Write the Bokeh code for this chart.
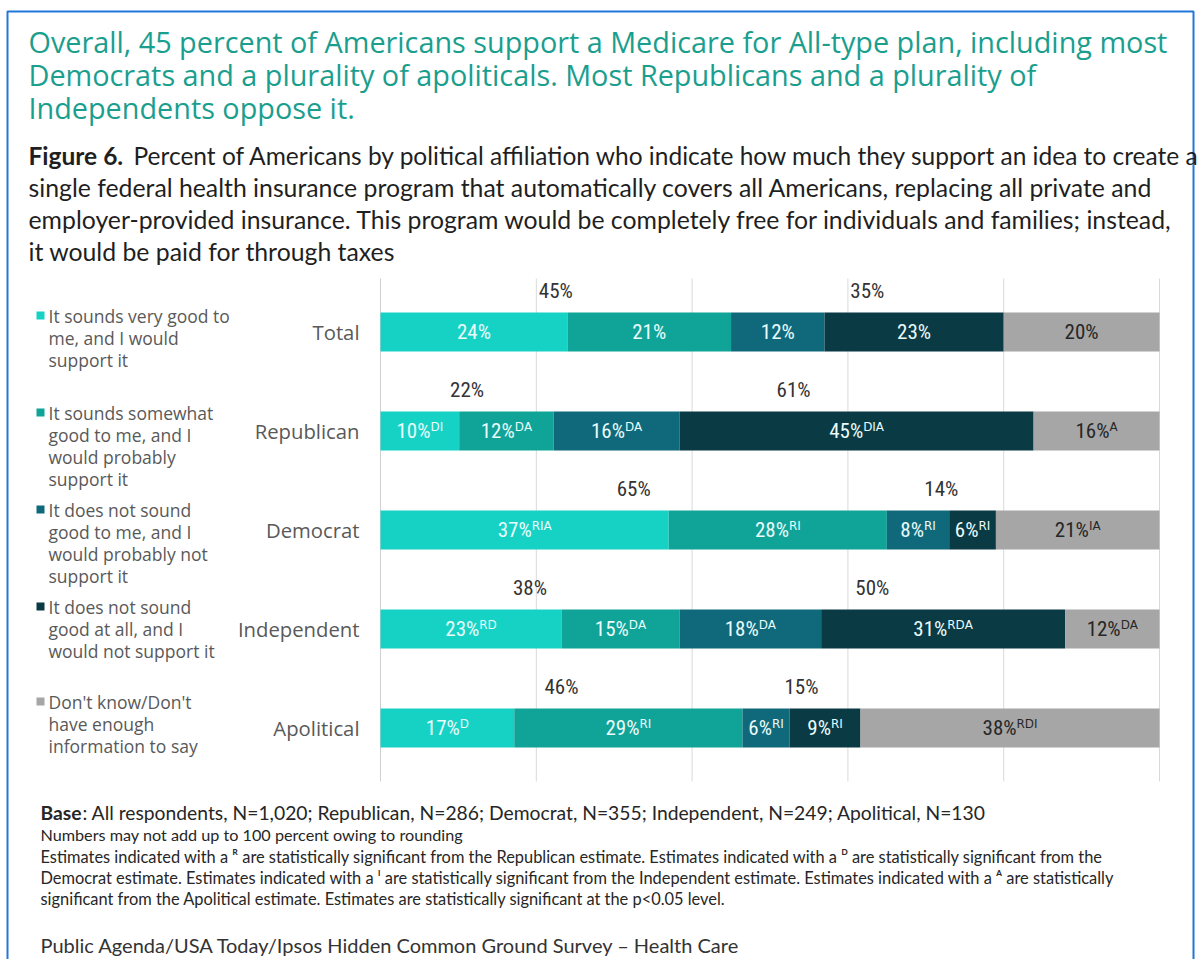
from bokeh.plotting import figure
from bokeh.models import ColumnDataSource, Range1d, Label
from bokeh.core.properties import value
from bokeh.embed import file_html
from bokeh.resources import INLINE

# ---------------- data ----------------
categories = ["Total", "Republican", "Democrat", "Independent", "Apolitical"]
series_names = [
    "It sounds very good to me, and I would support it",
    "It sounds somewhat good to me, and I would probably support it",
    "It does not sound good to me, and I would probably not support it",
    "It does not sound good at all, and I would not support it",
    "Don't know/Don't have enough information to say",
]
legend_lines = [
    ["It sounds very good to", "me, and I would", "support it"],
    ["It sounds somewhat", "good to me, and I", "would probably", "support it"],
    ["It does not sound", "good to me, and I", "would probably not", "support it"],
    ["It does not sound", "good at all, and I", "would not support it"],
    ["Don't know/Don't", "have enough", "information to say"],
]
very_good = [24, 10, 37, 23, 17]
somewhat_good = [21, 12, 28, 15, 29]
probably_not = [12, 16, 8, 18, 6]
not_at_all = [23, 45, 6, 31, 9]
dont_know = [20, 16, 21, 12, 38]
very_good_sig = ["", "DI", "RIA", "RD", "D"]
somewhat_good_sig = ["", "DA", "RI", "DA", "RI"]
probably_not_sig = ["", "DA", "RI", "DA", "RI"]
not_at_all_sig = ["", "DIA", "RI", "RDA", "RI"]
dont_know_sig = ["", "A", "IA", "DA", "RDI"]
support_total = [45, 22, 65, 38, 46]
oppose_total = [35, 61, 14, 50, 15]
grid_ticks = [0, 20, 40, 60, 80, 100]

title_lines = [
    "Overall, 45 percent of Americans support a Medicare for All-type plan, including most",
    "Democrats and a plurality of apoliticals. Most Republicans and a plurality of",
    "Independents oppose it.",
]
caption_bold = "Figure 6."
caption_lines = [
    "Percent of Americans by political affiliation who indicate how much they support an idea to create a",
    "single federal health insurance program that automatically covers all Americans, replacing all private and",
    "employer-provided insurance. This program would be completely free for individuals and families; instead,",
    "it would be paid for through taxes",
]
base_bold = "Base"
base_text = ": All respondents, N=1,020; Republican, N=286; Democrat, N=355; Independent, N=249; Apolitical, N=130"
note_line = "Numbers may not add up to 100 percent owing to rounding"
sig_lines = [
    "Estimates indicated with a \u1d3f are statistically significant from the Republican estimate. Estimates indicated with a \u1d30 are statistically significant from the",
    "Democrat estimate. Estimates indicated with a \u1d35 are statistically significant from the Independent estimate. Estimates indicated with a \u1d2c are statistically",
    "significant from the Apolitical estimate. Estimates are statistically significant at the p<0.05 level.",
]
source_line = "Public Agenda/USA Today/Ipsos Hidden Common Ground Survey \u2013 Health Care"

# ---------------- styles / layout ----------------
colors = ["#16d2c5", "#10a397", "#0f697b", "#0a3a44", "#a6a6a6"]
label_colors = ["#eafcfc", "#eafcfc", "#eafcfc", "#eafcfc", "#262626"]
SUP = {"R": "\u1d3f", "D": "\u1d30", "I": "\u1d35", "A": "\u1d2c"}
COND = value("'Roboto Condensed', 'DejaVu Sans Condensed', 'Liberation Sans Narrow', 'Arial Narrow', Roboto")

values = [very_good, somewhat_good, probably_not, not_at_all, dont_know]
sigs = [very_good_sig, somewhat_good_sig, probably_not_sig, not_at_all_sig, dont_know_sig]
ypos = list(range(1, len(categories) + 1))   # row index, Total on top

W, H = 1198, 959
PL, PR = 380, 1159        # page x of 0% and 100%
PT, BAND = 282, 99        # page y of top of first row band, band height
ppu = (PR - PL) / 100.0

p = figure(width=W, height=H, output_backend="svg", toolbar_location=None,
           x_range=Range1d(0, W), y_range=Range1d(H, 0),
           x_axis_location=None, y_axis_location=None,
           min_border=0, min_border_left=0, min_border_right=0,
           min_border_top=0, min_border_bottom=0)
p.outline_line_color = None
p.background_fill_color = "white"
p.border_fill_color = "white"
p.grid.visible = False
# percentage scale (x) and row scale (y) mapped onto the page
p.extra_x_ranges = {"pct": Range1d(-PL / ppu, 100 + (W - PR) / ppu)}
p.extra_y_ranges = {"rows": Range1d(start=(H - PT) / BAND + 0.5, end=-PT / BAND + 0.5)}

# grid lines / axis line
n_rows = len(categories)
p.segment(x0=grid_ticks[1:], x1=grid_ticks[1:], y0=0.46, y1=n_rows + 0.54,
          x_range_name="pct", y_range_name="rows", line_color="#d9d9d9", line_width=1)
p.segment(x0=[grid_ticks[0]], x1=[grid_ticks[0]], y0=0.46, y1=n_rows + 0.54,
          x_range_name="pct", y_range_name="rows", line_color="#cfcfcf", line_width=1)

# ---------------- bars (100% stacked) ----------------
row_tot = [sum(v[i] for v in values) for i in range(n_rows)]
data = {"y": ypos, "cat": categories}
for k, v in enumerate(values):
    data[f"s{k}"] = [v[i] / row_tot[i] * 100 for i in range(n_rows)]
src = ColumnDataSource(data)
p.hbar_stack([f"s{k}" for k in range(5)], y="y", height=0.394, color=colors,
             source=src, line_width=0, x_range_name="pct", y_range_name="rows")

# category labels
p.text(x=359, y="y", text="cat", source=src, y_range_name="rows",
       text_align="right", text_baseline="middle", text_color="#595959",
       text_font=value("Open Sans"), text_font_size="20.3px")

# segment labels
lx, ly, lt, lc = [], [], [], []
for i, yv in enumerate(ypos):
    left = 0.0
    for k in range(5):
        n = data[f"s{k}"][i]
        lx.append(left + n / 2)
        ly.append(yv)
        lt.append(f"{values[k][i]}%" + "".join(SUP[c] for c in sigs[k][i]))
        lc.append(label_colors[k])
        left += n
lab_src = ColumnDataSource(dict(x=lx, y=ly, t=lt, c=lc))
p.text(x="x", y="y", text="t", text_color="c", source=lab_src,
       x_range_name="pct", y_range_name="rows",
       text_align="center", text_baseline="middle",
       text_font=COND, text_font_size="21px")

# net support / oppose labels above bars
nx, ny, nt = [], [], []
for i, yv in enumerate(ypos):
    s0, s1, s2, s3 = (data[f"s{k}"][i] for k in range(4))
    nx += [(s0 + s1) / 2, s0 + s1 + (s2 + s3) / 2]
    ny += [yv - 0.413, yv - 0.413]
    nt += [f"{support_total[i]}%", f"{oppose_total[i]}%"]
net_src = ColumnDataSource(dict(x=nx, y=ny, t=nt))
p.text(x="x", y="y", text="t", source=net_src,
       x_range_name="pct", y_range_name="rows",
       text_align="center", text_baseline="middle", text_color="#333333",
       text_font=COND, text_font_size="21px")


# ---------------- page texts ----------------
def put(text, x, y, size, color, font="Lato", style="normal", align="left"):
    p.add_layout(Label(x=x, y=y, text=text,
                       text_font=font, text_font_size=f"{size}px", text_color=color,
                       text_font_style=style, text_align=align, text_baseline="middle"))


for j, line in enumerate(title_lines):
    put(line, 28, 41 + j * 33, 28.8, "#1a9e8e", font="Open Sans")

put(caption_bold, 28, 155, 24.5, "#1f1f1f", style="bold")
put(caption_lines[0], 133, 155, 24.5, "#1f1f1f")
for j, line in enumerate(caption_lines[1:]):
    put(line, 28, 187 + j * 32, 24.8, "#1f1f1f")

# legend
legend_first = [315, 412, 509, 606, 701]
p.rect(x=[40] * 5, y=legend_first, width=8, height=8, color=colors, line_width=0)
for k, lines in enumerate(legend_lines):
    y0 = legend_first[k]
    for j, line in enumerate(lines):
        put(line, 48, y0 + j * 22, 17.5, "#595959", font="Open Sans")

# footnotes
put(base_bold, 40, 812, 19.3, "#262626", style="bold")
put(base_text, 82, 812, 19.3, "#262626")
put(note_line, 40, 834, 16.2, "#262626")
for j, line in enumerate(sig_lines):
    put(line, 40, 856 + j * 21, 16.4, "#262626")
put(source_line, 40, 944, 20, "#333333")

# page frame
p.line(x=[7, 7, 1193, 1193], y=[H + 10, 11, 11, H + 10], line_color="#2176d9", line_width=2)

open("out.html", "w").write(file_html(p, INLINE))
